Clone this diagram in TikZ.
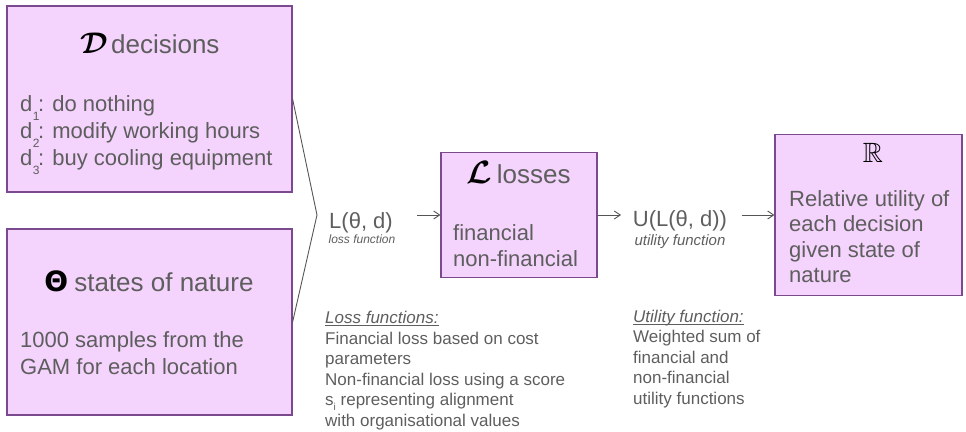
\documentclass[tikz,border=0pt]{standalone}
\usepackage{amsmath,amssymb,bm,graphicx}
\usepackage{fontspec}
\setmainfont{Liberation Sans}
\newfontfamily\djv{DejaVu Sans}
\usetikzlibrary{arrows.meta}
\definecolor{boxfill}{HTML}{F4D3FC}
\definecolor{boxline}{HTML}{7B4A8E}
\definecolor{txt}{HTML}{5E5E5E}
\definecolor{conn}{HTML}{555555}
\newcommand{\myfs}[1]{\fontsize{#1}{#1}\selectfont}
\newcommand{\lsub}[1]{\kern0.5pt\raisebox{-9pt}{\myfs{12}#1}\kern-1.5pt}
\newcommand{\ssub}[1]{\raisebox{-5pt}{\myfs{10}#1}}
\newcommand{\myul}[1]{\setbox0\hbox{#1}\rlap{\rule[-2.5pt]{\wd0}{0.9pt}}\box0}
\begin{document}
\begin{tikzpicture}[x=1pt,y=-1pt,
  box/.style={draw=boxline, fill=boxfill, line width=1.2pt, inner sep=0pt},
  ttl/.style={inner sep=0pt, anchor=base, text=txt, font=\myfs{26}},
  body/.style={inner sep=0pt, anchor=base west, text=txt, font=\myfs{22}},
  fn/.style={inner sep=0pt, anchor=base, text=txt, font=\myfs{22}},
  fnsub/.style={inner sep=0pt, anchor=base, text=txt, font=\itshape},
  note/.style={inner sep=0pt, anchor=base west, text=txt, font=\myfs{17}},
  conn/.style={draw=conn, line width=0.9pt},
  arr/.style={conn, -{Straight Barb[length=6pt,width=8pt]}}]
\useasboundingbox (0,0) rectangle (966,431);

% boxes
\node[box, minimum width=285pt, minimum height=186pt] (D) at (149.5,99) {};
\node[box, minimum width=285pt, minimum height=186pt] (T) at (149.5,322) {};
\node[box, minimum width=156pt, minimum height=125pt] (L) at (519,215) {};
\node[box, minimum width=187pt, minimum height=161pt] (R) at (868.5,215) {};

% D box text
\node[ttl] (dt) at (150,53) {\textcolor{black}{\scalebox{1.2}{\myfs{24.88}$\boldsymbol{\mathcal{D}}$}}\hspace{3pt}decisions};
\node[body] (d1) at (20,111) {d\lsub{1}: do nothing};
\node[body] (d2) at (20,138) {d\lsub{2}: modify working hours};
\node[body] (d3) at (20,165) {d\lsub{3}: buy cooling equipment};

% Theta box text
\node[ttl] (tt) at (149,291) {\textcolor{black}{\myfs{28}\djv\bfseries Θ}\hspace{6pt}states of nature};
\node[body] (t1) at (20,347) {1000 samples from the};
\node[body] (t2) at (20,374) {GAM for each location};

% L box text
\node[ttl] (lt) at (518.5,183) {\textcolor{black}{\scalebox{1.3}{\myfs{24.88}$\boldsymbol{\mathcal{L}}$}}\hspace{5pt}losses};
\node[body] (l1) at (453,240) {financial};
\node[body] (l2) at (453,266) {non-financial};

% R box text
\node[ttl] (rt) at (873,162) {\textcolor{black}{\scalebox{1.12}{\myfs{24.88}$\mathbb{R}$}}};
\node[body] (r1) at (789,206) {Relative utility of};
\node[body] (r2) at (789,231.5) {each decision};
\node[body] (r3) at (789,257) {given state of};
\node[body] (r4) at (789,282.5) {nature};

% function labels
\node[fn] (lf) at (361,228) {L(θ, d)};
\node[fnsub, font=\myfs{12}\itshape] (lfs) at (362,243) {loss function};
\node[fn] (uf) at (680,226) {U(L(θ, d))};
\node[fnsub, font=\myfs{15}\itshape] (ufs) at (680,245) {utility function};

% chevron
\coordinate (apex) at (317,215);
\draw[conn] (D.east) -- (apex) -- (T.east);

% arrows
\coordinate (a1) at (417,215);
\coordinate (a2) at (621,215);
\coordinate (a3) at (742,215);
\draw[arr] (a1) -- (L.west);
\draw[arr] (L.east) -- (a2);
\draw[arr] (a3) -- (R.west);

% notes
\node[note] (n1) at (325,323.5) {\myul{\itshape Loss functions:}};
\node[note] (n2) at (325,344) {Financial loss based on cost};
\node[note] (n3) at (325,364.5) {parameters};
\node[note] (n4) at (325,385) {Non-financial loss using a score};
\node[note] (n5) at (325,405.5) {s\ssub{i} representing alignment};
\node[note] (n6) at (325,426) {with organisational values};

\node[note] (u1) at (633,322) {\myul{\itshape Utility function:}};
\node[note] (u2) at (633,342.5) {Weighted sum of};
\node[note] (u3) at (633,363) {financial and};
\node[note] (u4) at (633,383.5) {non-financial};
\node[note] (u5) at (633,404) {utility functions};
\end{tikzpicture}
\end{document}
